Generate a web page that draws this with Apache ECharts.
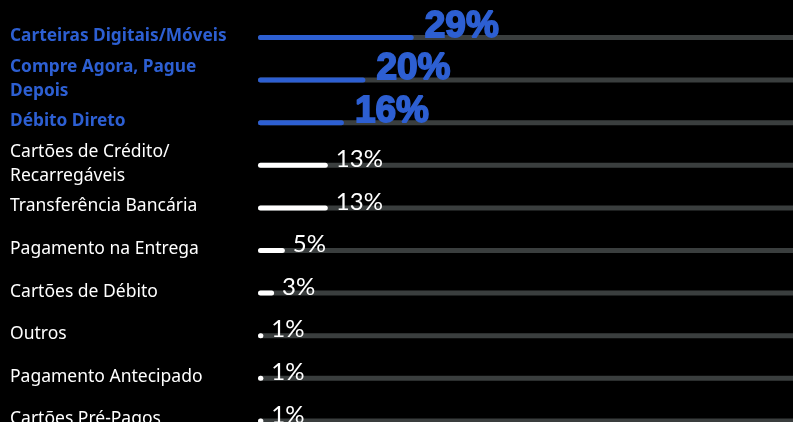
<!DOCTYPE html>
<html>
<head>
<meta charset="utf-8">
<script src="https://cdn.jsdelivr.net/npm/echarts@6/dist/echarts.min.js"></script>
<style>
  html, body { margin: 0; padding: 0; background: #000; }
  #chart { width: 793px; height: 422px; }
</style>
</head>
<body>
<div id="chart"></div>
<script>
// Payment methods, share of e-commerce transactions (%)
const categories = [
  'Carteiras Digitais/Móveis',
  'Compre Agora, Pague\nDepois',
  'Débito Direto',
  'Cartões de Crédito/\nRecarregáveis',
  'Transferência Bancária',
  'Pagamento na Entrega',
  'Cartões de Débito',
  'Outros',
  'Pagamento Antecipado',
  'Cartões Pré-Pagos'
];
const values = [29, 20, 16, 13, 13, 5, 3, 1, 1, 1];
// the first entries are the highlighted ones
const highlightCount = 3;

const BLUE = '#2d5fd2';
const WHITE = '#ffffff';
const TRACK = '#3a3e3e';
const LABEL_FONT = "'Noto Sans', sans-serif";

const data = values.map((v, i) => {
  const hi = i < highlightCount;
  return {
    value: v,
    itemStyle: { color: hi ? BLUE : WHITE },
    label: hi ? {
      fontFamily: "'Liberation Sans', Arial, sans-serif",
      fontStyle: 'normal',
      fontWeight: 'bold',
      fontSize: 37,
      color: BLUE,
      textBorderColor: BLUE,
      textBorderWidth: 1.8,
      distance: 11,
      offset: [0, -11]
    } : {
      fontFamily: "Lato, 'Liberation Sans', sans-serif",
      fontStyle: 'normal',
      fontWeight: 400,
      fontSize: 24,
      color: WHITE,
      distance: 8,
      offset: [0, -6]
    }
  };
});

const wrap = (val, idx) => {
  const tag = idx < highlightCount ? 'hi' : 'lo';
  return val.split('\n').map(line => '{' + tag + '|' + line + '}').join('\n');
};

const chart = echarts.init(document.getElementById('chart'), null, { renderer: 'canvas' });
chart.setOption({
  backgroundColor: '#000',
  animation: false,
  grid: {
    left: 258, right: -2, top: 16.2, height: 426,
    containLabel: false,
    outerBoundsMode: 'none'
  },
  xAxis: {
    type: 'value',
    min: 0,
    max: 100,
    show: false
  },
  yAxis: {
    type: 'category',
    inverse: true,
    data: categories,
    axisLine: { show: false },
    axisTick: { show: false },
    splitLine: { show: false },
    axisLabel: {
      align: 'left',
      margin: 248,
      padding: [0, 0, 3, 0],
      formatter: wrap,
      rich: {
        hi: { fontFamily: LABEL_FONT, fontWeight: 700, fontSize: 17.3, color: BLUE, lineHeight: 24 },
        lo: { fontFamily: LABEL_FONT, fontWeight: 400, fontSize: 17.5, color: WHITE, lineHeight: 24 }
      }
    }
  },
  series: [{
    type: 'bar',
    data: data,
    barWidth: 5,
    showBackground: true,
    backgroundStyle: { color: TRACK, borderRadius: 2.5 },
    itemStyle: { borderRadius: 2.5 },
    label: {
      show: true,
      position: 'right',
      formatter: '{c}%'
    }
  }]
});
</script>
</body>
</html>
